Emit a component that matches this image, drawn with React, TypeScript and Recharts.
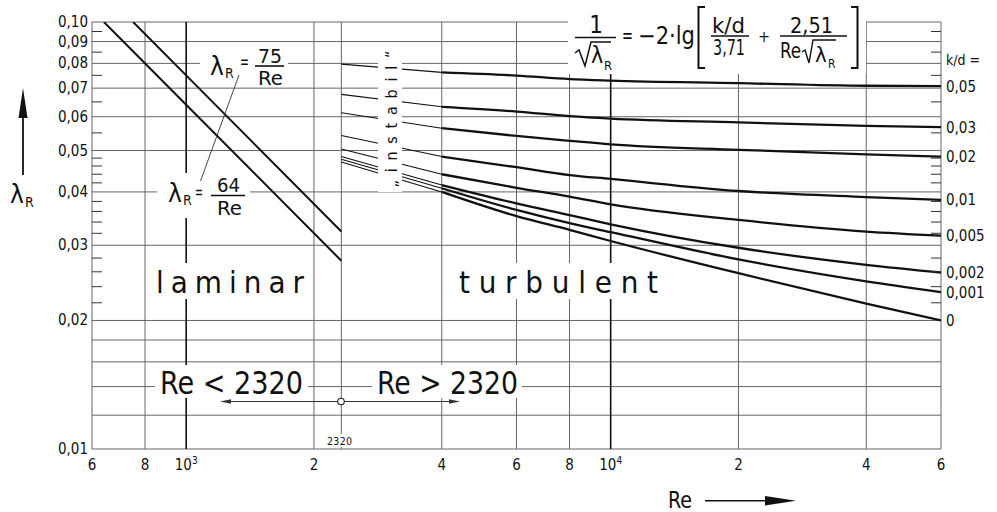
import React from 'react';
import { LineChart, Line, XAxis, YAxis, ReferenceLine } from 'recharts';

const FONT = "'DejaVu Sans Condensed', 'DejaVu Sans', sans-serif";
const INK = '#111';

// ---- axes ----
const xTicks = [600, 800, 1000, 2000, 4000, 6000, 8000, 10000, 20000, 40000, 60000];
const xTickBase = ['6', '8', '10', '2', '4', '6', '8', '10', '2', '4', '6'];
const xTickExp = ['', '', '3', '', '', '', '', '4', '', '', ''];
const xGrid = [600, 800, 1000, 2000, 2320, 4000, 6000, 8000, 10000, 20000, 40000, 60000];
const xGridBold = [1000, 10000];

const yLabelValues = [0.01, 0.02, 0.03, 0.04, 0.05, 0.06, 0.07, 0.08, 0.09, 0.1];
const yLabelTexts = ['0,01', '0,02', '0,03', '0,04', '0,05', '0,06', '0,07', '0,08', '0,09', '0,10'];
const yGrid = [0.01, 0.012, 0.014, 0.016, 0.018, 0.02, 0.03, 0.04, 0.05, 0.06, 0.07, 0.08, 0.09, 0.1];
const yMinorTicks = [0.022, 0.024, 0.026, 0.028, 0.032, 0.034, 0.036, 0.038, 0.042, 0.044, 0.046, 0.048, 0.055, 0.065, 0.075, 0.085, 0.095];
const yAxisTicks = [...yLabelValues, ...yMinorTicks].sort((a, b) => a - b);

// ---- laminar ----
const lam64Re = [640, 1000, 2320];
const lam64Val = [0.1, 0.064, 0.0276];
const lam75Re = [750, 1000, 2320];
const lam75Val = [0.1, 0.075, 0.0323];

// ---- turbulent (Colebrook curves) ----
const reStart = 2320;
const reTurb = [4000, 6000, 8000, 10000, 20000, 40000, 60000];
const kdLabels = ['0,05', '0,03', '0,02', '0,01', '0,005', '0,002', '0,001', '0'];
const lamStart = [0.0797, 0.0677, 0.0613, 0.0542, 0.0504, 0.0484, 0.0477, 0.047];
const lamKd005 = [0.0762, 0.0749, 0.0735, 0.0729, 0.0719, 0.0709, 0.0708];
const lamKd003 = [0.0633, 0.0617, 0.0602, 0.0594, 0.0582, 0.0571, 0.0567];
const lamKd002 = [0.0564, 0.0541, 0.0527, 0.0517, 0.0502, 0.049, 0.0484];
const lamKd001 = [0.0484, 0.0457, 0.0438, 0.0429, 0.0402, 0.0389, 0.0383];
const lamKd0005 = [0.044, 0.0409, 0.039, 0.0374, 0.0344, 0.0323, 0.0316];
const lamKd0002 = [0.0415, 0.0376, 0.0353, 0.0336, 0.0296, 0.027, 0.0259];
const lamKd0001 = [0.0408, 0.0363, 0.0338, 0.0322, 0.0278, 0.0247, 0.0233];
const lamKd0 = [0.04, 0.0351, 0.0326, 0.0307, 0.0258, 0.0219, 0.02];
const kdValues = [lamKd005, lamKd003, lamKd002, lamKd001, lamKd0005, lamKd0002, lamKd0001, lamKd0];

const lam64Data = lam64Re.map((re, i) => ({ re, lam: lam64Val[i] }));
const lam75Data = lam75Re.map((re, i) => ({ re, lam: lam75Val[i] }));
const turbSeries = kdLabels.map((label, k) => ({
  label,
  thin: [
    { re: reStart, lam: lamStart[k] },
    { re: reTurb[0], lam: kdValues[k][0] },
  ],
  thick: reTurb.map((re, i) => ({ re, lam: kdValues[k][i] })),
}));

const near = (a: number, b: number) => Math.abs(a - b) < 1e-9;

const LeftTick = (props: any) => {
  const { x, y, payload } = props;
  const v = payload?.value;
  const idx = yLabelValues.findIndex((m) => near(m, v));
  const minor = yMinorTicks.some((m) => near(m, v));
  return (
    <g>
      {minor && <line x1={x + 4} x2={x + 14} y1={y} y2={y} stroke="#333" strokeWidth={1} />}
      {idx >= 0 && (
        <text x={x} y={y + 5} textAnchor="end" fontSize={15} fontFamily={FONT} fill={INK}>
          {yLabelTexts[idx]}
        </text>
      )}
    </g>
  );
};

const RightTick = (props: any) => {
  const { x, y, payload } = props;
  const v = payload?.value;
  const minor = yMinorTicks.some((m) => near(m, v));
  return <g>{minor && <line x1={x - 4} x2={x - 14} y1={y} y2={y} stroke="#333" strokeWidth={1} />}</g>;
};

const XTick = (props: any) => {
  const { x, y, payload } = props;
  const i = xTicks.findIndex((t) => near(t, payload?.value));
  if (i < 0) return <g />;
  return (
    <text x={x} y={y + 13} textAnchor="middle" fontSize={15} fontFamily={FONT} fill={INK}>
      <tspan>{xTickBase[i]}</tspan>
      {xTickExp[i] && (
        <tspan dy={-6} fontSize={10}>
          {xTickExp[i]}
        </tspan>
      )}
    </text>
  );
};

const makeEndLabel = (text: string, last: number) => (props: any) => {
  if (props.index !== last) return null;
  const vb = props.viewBox || {};
  const x = vb.x ?? props.x;
  const y = vb.y ?? props.y;
  return (
    <text x={x + 5} y={y + 5.5} fontSize={15} fontFamily={FONT} fill={INK}>
      {text}
    </text>
  );
};

const T = ({ x, y, s, w, adj = 'spacingAndGlyphs', anchor = 'start', f = FONT, children }: any) => (
  <text
    x={x}
    y={y}
    fontSize={s}
    fontFamily={f}
    textAnchor={anchor}
    fill={INK}
    {...(w ? { textLength: w, lengthAdjust: adj } : {})}
  >
    {children}
  </text>
);

const Overlay = () => (
  <svg width={997} height={512} style={{ position: 'absolute', left: 0, top: 0, pointerEvents: 'none' }}>
    {/* white backgrounds */}
    <rect x={568} y={0} width={298} height={74} fill="#fff" />
    <rect x={200} y={47} width={88} height={39} fill="#fff" />
    <rect x={157} y={173} width={93} height={45} fill="#fff" />
    <rect x={150} y={263} width={160} height={36} fill="#fff" />
    <rect x={452} y={263} width={212} height={36} fill="#fff" />
    <rect x={155} y={365} width={153} height={33} fill="#fff" />
    <rect x={372} y={365} width={150} height={33} fill="#fff" />
    <rect x={325} y={434} width={30} height={13} fill="#fff" />
    <rect x={378} y={45} width={24} height={147} fill="#fff" />

    {/* formula */}
    <T x={596} y={33} s={24} anchor="middle">1</T>
    <line x1={575} x2={616} y1={37.5} y2={37.5} stroke={INK} strokeWidth={1.5} />
    <path d="M575,53 L579,50 L585,66 L591,42 L611,42" stroke={INK} strokeWidth={1.5} fill="none" />
    <T x={591} y={63} s={23}>λ</T>
    <T x={604} y={70} s={13}>R</T>
    <T x={622} y={43} s={22} w={11}>=</T>
    <T x={638} y={44} s={24} w={57}>−2·lg</T>
    <path d="M705,7 L698.5,7 L698.5,68 L705,68" stroke={INK} strokeWidth={2} fill="none" />
    <T x={712} y={33} s={21} w={33}>k/d</T>
    <line x1={711} x2={749} y1={36} y2={36} stroke={INK} strokeWidth={1.5} />
    <T x={713} y={55} s={21} w={32}>3,71</T>
    <T x={764} y={42} s={16} anchor="middle">+</T>
    <T x={790} y={33} s={21} w={43}>2,51</T>
    <line x1={780} x2={847} y1={36} y2={36} stroke={INK} strokeWidth={1.5} />
    <T x={780} y={58} s={21} w={21}>Re</T>
    <path d="M802,52 L805,50 L809,63 L813,40 L836,40" stroke={INK} strokeWidth={1.4} fill="none" />
    <T x={815} y={62} s={22}>λ</T>
    <T x={828} y={68} s={12}>R</T>
    <path d="M851,7 L857.5,7 L857.5,68 L851,68" stroke={INK} strokeWidth={2} fill="none" />

    {/* lambda = 75/Re */}
    <T x={210} y={75} s={26}>λ</T>
    <T x={225} y={78} s={14}>R</T>
    <T x={240} y={68} s={20} w={9}>=</T>
    <T x={258} y={63} s={20} w={24}>75</T>
    <line x1={255} x2={284} y1={66} y2={66} stroke={INK} strokeWidth={1.6} />
    <T x={258} y={85} s={20} w={25}>Re</T>

    {/* lambda = 64/Re */}
    <T x={168} y={202} s={26}>λ</T>
    <T x={183} y={205} s={14}>R</T>
    <T x={195} y={198} s={18} w={8}>=</T>
    <T x={217} y={192} s={20} w={23}>64</T>
    <line x1={211} x2={245} y1={195.5} y2={195.5} stroke={INK} strokeWidth={1.6} />
    <T x={217} y={215} s={20} w={25}>Re</T>

    {/* leader line */}
    <line x1={239} y1={75} x2={200.5} y2={181} stroke="#333" strokeWidth={0.9} />

    {/* region texts */}
    <T x={156} y={293} s={31} w={148} adj="spacing">laminar</T>
    <T x={459} y={293} s={31} w={199} adj="spacing">turbulent</T>
    <T x={160} y={394} s={32} w={143}>Re &lt; 2320</T>
    <T x={377} y={394} s={32} w={141}>Re &gt; 2320</T>
    <T x={327} y={445} s={10.5} w={25} adj="spacing">2320</T>
    <text
      x={397}
      y={119}
      transform="rotate(-90 397 119)"
      textAnchor="middle"
      fontSize={16}
      fontFamily={FONT}
      fill={INK}
      textLength={137}
      lengthAdjust="spacing"
    >
      „instabil“
    </text>

    {/* Re arrows with 2320 point */}
    <line x1={226} x2={454} y1={401.5} y2={401.5} stroke="#333" strokeWidth={1.2} />
    <polygon points="220,401.5 231,399.3 231,403.7" fill="#333" />
    <polygon points="460,401.5 449,399.3 449,403.7" fill="#333" />
    <circle cx={341} cy={401.5} r={3.3} fill="#fff" stroke="#222" strokeWidth={1.1} />

    {/* y axis title */}
    <line x1={23} x2={23} y1={112} y2={175} stroke={INK} strokeWidth={1.8} />
    <polygon points="18.5,118 27.5,118 23,88" fill={INK} />
    <T x={10} y={203} s={26}>λ</T>
    <T x={25} y={207} s={14}>R</T>

    {/* x axis title */}
    <T x={668} y={508} s={23} w={24}>Re</T>
    <line x1={705} x2={770} y1={500.7} y2={500.7} stroke={INK} strokeWidth={1.6} />
    <polygon points="765,496 796,500.7 765,505.4" fill={INK} />

    {/* k/d header */}
    <T x={946} y={65} s={14} w={34}>k/d =</T>
  </svg>
);

export default function App() {
  return (
    <div style={{ position: 'absolute', left: 0, top: 0, width: 997, height: 512, background: '#fff' }}>
      <LineChart width={997} height={512} margin={{ top: 22, right: 0, bottom: 33, left: 32 }}>
        <XAxis
          dataKey="re"
          type="number"
          scale="log"
          domain={[600, 60000]}
          allowDataOverflow
          ticks={xTicks}
          interval={0}
          tick={(p: any) => <XTick {...p} />}
          tickLine={false}
          axisLine={false}
          tickSize={0}
          tickMargin={8}
          height={30}
        />
        <YAxis
          yAxisId="l"
          type="number"
          scale="log"
          domain={[0.01, 0.1]}
          allowDataOverflow
          ticks={yAxisTicks}
          interval={0}
          tick={(p: any) => <LeftTick {...p} />}
          tickLine={false}
          axisLine={false}
          tickSize={0}
          tickMargin={4}
          width={60}
        />
        <YAxis
          yAxisId="r"
          orientation="right"
          type="number"
          scale="log"
          domain={[0.01, 0.1]}
          allowDataOverflow
          ticks={yAxisTicks}
          interval={0}
          tick={(p: any) => <RightTick {...p} />}
          tickLine={false}
          axisLine={false}
          tickSize={0}
          tickMargin={4}
          width={56}
        />
        {yGrid.map((v) => (
          <ReferenceLine key={'hy' + v} yAxisId="l" y={v} stroke="#666" strokeWidth={1} />
        ))}
        {xGrid.map((v) => (
          <ReferenceLine
            key={'vx' + v}
            yAxisId="l"
            x={v}
            stroke={xGridBold.includes(v) ? '#111' : '#666'}
            strokeWidth={xGridBold.includes(v) ? 1.6 : 1}
          />
        ))}
        <Line
          yAxisId="l"
          data={lam64Data}
          dataKey="lam"
          type="linear"
          stroke={INK}
          strokeWidth={2}
          dot={false}
          activeDot={false}
          isAnimationActive={false}
        />
        <Line
          yAxisId="l"
          data={lam75Data}
          dataKey="lam"
          type="linear"
          stroke={INK}
          strokeWidth={2}
          dot={false}
          activeDot={false}
          isAnimationActive={false}
        />
        {turbSeries.map((s) => (
          <Line
            key={'thin' + s.label}
            yAxisId="l"
            data={s.thin}
            dataKey="lam"
            type="linear"
            stroke={INK}
            strokeWidth={1.1}
            dot={false}
            activeDot={false}
            isAnimationActive={false}
          />
        ))}
        {turbSeries.map((s) => (
          <Line
            key={'thick' + s.label}
            yAxisId="l"
            data={s.thick}
            dataKey="lam"
            type="monotone"
            stroke={INK}
            strokeWidth={2.3}
            dot={false}
            activeDot={false}
            isAnimationActive={false}
            label={makeEndLabel(s.label, s.thick.length - 1)}
          />
        ))}
      </LineChart>
      <Overlay />
    </div>
  );
}
